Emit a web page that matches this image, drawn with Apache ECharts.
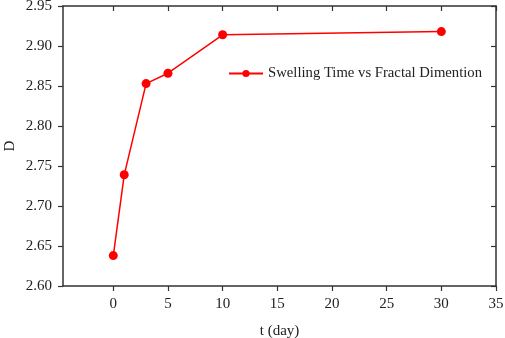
<!DOCTYPE html>
<html><head><meta charset="utf-8">
<script src="https://cdn.jsdelivr.net/npm/echarts@6/dist/echarts.min.js"></script>
<style>html,body{margin:0;padding:0;background:#fff}#c{width:505px;height:338px}</style>
</head><body><div id="c"></div>
<script>
var days = [0, 1, 3, 5, 10, 30];
var fractalD = [2.638, 2.739, 2.853, 2.866, 2.914, 2.918];
var xTicks = [0, 5, 10, 15, 20, 25, 30, 35];
var yTicks = [2.60, 2.65, 2.70, 2.75, 2.80, 2.85, 2.90, 2.95];
var seriesName = 'Swelling Time vs Fractal Dimention';
var xTitle = 't (day)';
var yTitle = 'D';

var font = '"Liberation Serif","Times New Roman",serif';
var axisColor = '#333';
function xAx(pos, show, inside){
  return {
    type:'value', position:pos, min:-4.6, max:35,
    axisLine:{show:true, onZero:false, lineStyle:{color:axisColor, width:1.5}},
    axisTick:{show:true, inside:inside, length:5, customValues:xTicks, lineStyle:{color:axisColor, width:1.2}},
    axisLabel:{show:show, customValues:xTicks, margin:11, fontFamily:font, fontSize:15, color:'#222', hideOverlap:false},
    splitLine:{show:false},
    name: show ? xTitle : '', nameLocation:'middle', nameGap:38, nameMoveOverlap:false,
    nameTextStyle:{fontFamily:font, fontSize:15, color:'#222'}
  };
}
function yAx(pos, show, inside){
  return {
    type:'value', position:pos, min:yTicks[0], max:yTicks[yTicks.length-1],
    axisLine:{show:true, onZero:false, lineStyle:{color:axisColor, width:1.5}},
    axisTick:{show:true, inside:inside, length:5, customValues:yTicks, lineStyle:{color:axisColor, width:1.2}},
    axisLabel:{show:show, customValues:yTicks, margin:11, fontFamily:font, fontSize:15, color:'#222', hideOverlap:false,
      formatter:function(v){return v.toFixed(2);}},
    splitLine:{show:false},
    name: show ? yTitle : '', nameLocation:'middle', nameGap:45, nameRotate:90, nameMoveOverlap:false,
    nameTextStyle:{fontFamily:font, fontSize:15, color:'#222'}
  };
}
var chart = echarts.init(document.getElementById('c'), null, {renderer:'canvas'});
chart.setOption({
  animation:false,
  backgroundColor:'#fff',
  grid:{left:63, right:9, top:6, bottom:52, containLabel:false, outerBoundsMode:'none'},
  legend:{
    data:[seriesName], left:228, top:66, padding:0, itemWidth:34, itemHeight:9, itemGap:7,
    textStyle:{fontFamily:font, fontSize:14.7, color:'#222'}
  },
  xAxis:[xAx('bottom', true, false), xAx('top', false, true)],
  yAxis:[yAx('left', true, false), yAx('right', false, true)],
  series:[{
    name:seriesName, type:'line', xAxisIndex:0, yAxisIndex:0,
    data: days.map(function(d,i){return [d, fractalD[i]];}),
    symbol:'circle', symbolSize:9,
    lineStyle:{color:'#ff0000', width:1.5},
    itemStyle:{color:'#ff0000'}
  }]
});
</script></body></html>
